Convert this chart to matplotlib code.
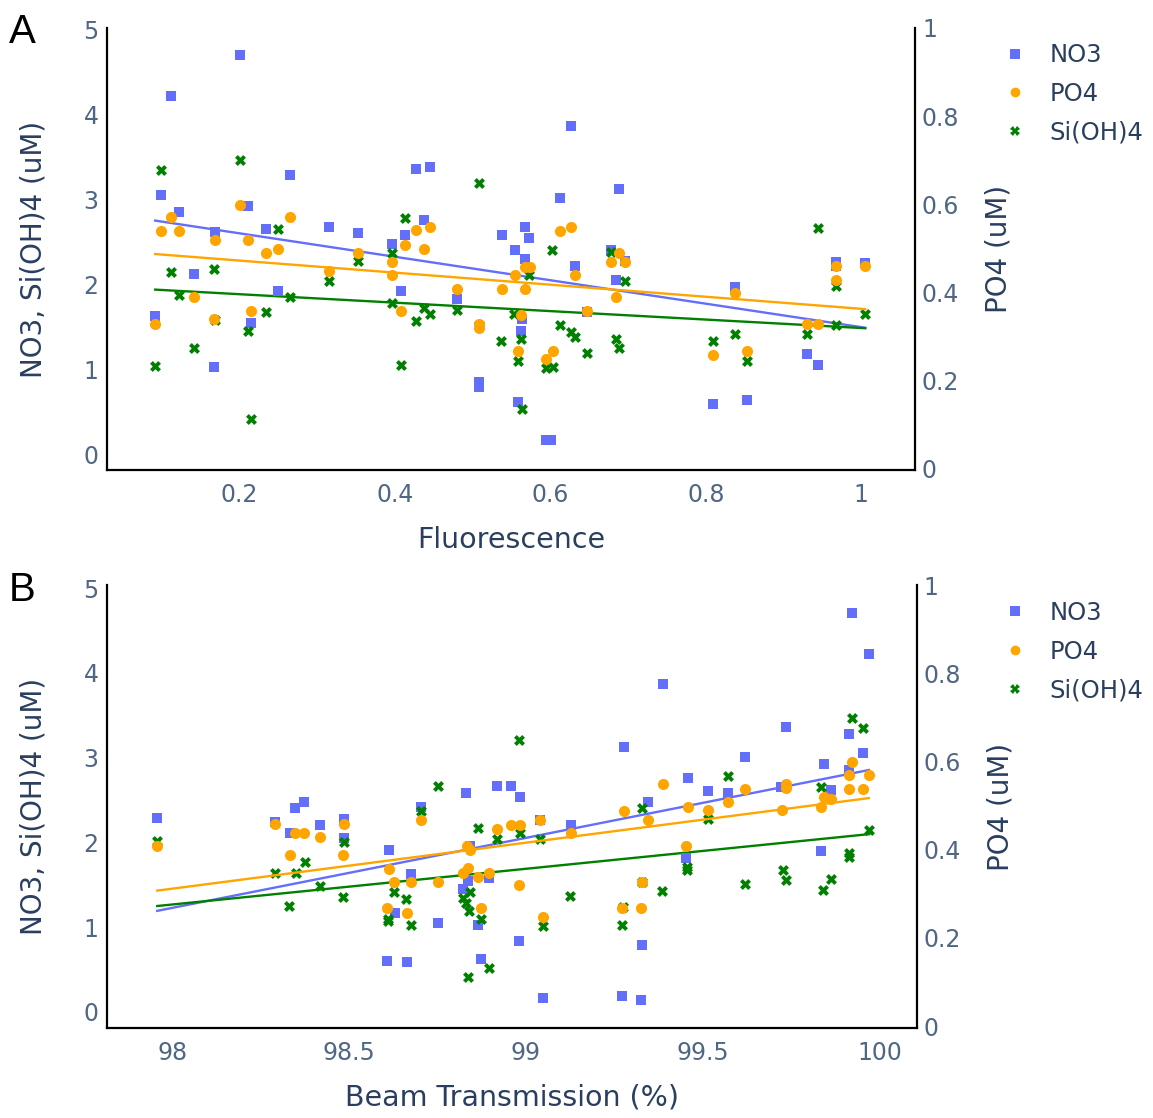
import matplotlib
matplotlib.use("Agg")
from matplotlib import pyplot as plt
from matplotlib.ticker import FuncFormatter
from matplotlib.lines import Line2D
import numpy as np

plt.rcParams["font.family"] = ["DejaVu Sans"]

# ---- panel A: fluorescence ----
fl_no3_x = [0.201, 0.112, 0.100, 0.122, 0.211, 0.265, 0.234, 0.169, 0.316, 0.353, 0.142, 0.250, 0.092, 0.215, 0.167,
            0.627, 0.427, 0.445, 0.613, 0.689, 0.438, 0.413, 0.396, 0.538, 0.567, 0.573, 0.554, 0.568, 0.632, 0.678,
            0.696, 0.684, 0.408, 0.480, 0.564, 0.647, 0.562, 0.508, 0.508, 0.558, 0.594, 0.601,
            0.968, 0.968, 1.005, 0.838, 0.930, 0.944, 0.809, 0.853]
fl_no3_y = [4.70, 4.22, 3.06, 2.85, 2.93, 3.29, 2.66, 2.62, 2.68, 2.61, 2.12, 1.92, 1.63, 1.55, 1.03,
            3.87, 3.36, 3.38, 3.02, 3.13, 2.76, 2.58, 2.48, 2.59, 2.68, 2.55, 2.41, 2.30, 2.22, 2.41,
            2.28, 2.05, 1.92, 1.83, 1.60, 1.68, 1.45, 0.85, 0.80, 0.62, 0.17, 0.17,
            2.27, 2.22, 2.25, 1.97, 1.18, 1.05, 0.60, 0.64]

fl_po4_x = [0.201, 0.112, 0.100, 0.122, 0.169, 0.211, 0.265, 0.234, 0.250, 0.353, 0.316, 0.142, 0.092, 0.167, 0.215,
            0.427, 0.445, 0.413, 0.438, 0.396, 0.396, 0.613, 0.627, 0.554, 0.568, 0.574, 0.568, 0.538, 0.480,
            0.632, 0.678, 0.689, 0.696, 0.684, 0.408, 0.647, 0.562, 0.508, 0.508, 0.558, 0.603, 0.595,
            0.968, 1.005, 0.968, 0.838, 0.930, 0.944, 0.809, 0.853]
fl_po4_y = [0.599, 0.570, 0.539, 0.539, 0.519, 0.519, 0.570, 0.489, 0.498, 0.489, 0.449, 0.388, 0.327, 0.338, 0.358,
            0.541, 0.548, 0.508, 0.498, 0.469, 0.438, 0.539, 0.548, 0.438, 0.458, 0.458, 0.408, 0.408, 0.408,
            0.438, 0.469, 0.489, 0.469, 0.388, 0.358, 0.358, 0.348, 0.327, 0.318, 0.267, 0.267, 0.247,
            0.459, 0.459, 0.427, 0.397, 0.327, 0.327, 0.257, 0.267]

fl_si_x = [0.100, 0.201, 0.250, 0.112, 0.167, 0.122, 0.265, 0.316, 0.353, 0.234, 0.169, 0.211, 0.142, 0.092, 0.215,
           0.508, 0.413, 0.602, 0.396, 0.573, 0.696, 0.678, 0.396, 0.438, 0.445, 0.427, 0.480, 0.553, 0.613,
           0.627, 0.632, 0.537, 0.562, 0.647, 0.684, 0.689, 0.558, 0.408, 0.595, 0.603, 0.564, 0.508,
           0.944, 0.968, 1.005, 0.968, 0.930, 0.838, 0.809, 0.853]
fl_si_y = [3.35, 3.47, 2.65, 2.15, 2.18, 1.88, 1.85, 2.04, 2.28, 1.68, 1.58, 1.45, 1.26, 1.04, 0.42,
           3.20, 2.78, 2.41, 2.37, 2.11, 2.04, 2.38, 1.78, 1.73, 1.65, 1.57, 1.70, 1.66, 1.52,
           1.44, 1.38, 1.34, 1.36, 1.20, 1.36, 1.26, 1.10, 1.06, 1.02, 1.03, 0.54, 1.52,
           2.67, 1.99, 1.65, 1.52, 1.42, 1.42, 1.34, 1.10]

# ---- panel B: beam transmission ----
bt_no3_x = [97.958, 98.291, 98.347, 98.374, 98.333, 98.417, 98.487, 98.487,
            99.277, 98.919, 98.958, 98.983, 98.831, 98.703, 99.040, 99.126, 98.842, 98.614, 98.674, 98.896,
            98.835, 98.823, 98.630, 98.752, 98.865, 98.979, 99.329, 98.608, 98.663, 98.873, 99.048, 99.272, 99.324,
            99.922, 99.969, 99.386, 99.734, 99.913, 99.953, 99.620, 99.842, 99.457, 99.515, 99.572, 99.862,
            99.720, 99.912, 99.345, 99.452, 99.833]
bt_no3_y = [2.29, 2.24, 2.40, 2.47, 2.11, 2.20, 2.27, 2.05,
            3.12, 2.67, 2.67, 2.54, 2.58, 2.42, 2.26, 2.20, 1.96, 1.91, 1.63, 1.58,
            1.54, 1.45, 1.17, 1.05, 1.02, 0.84, 0.79, 0.60, 0.59, 0.62, 0.16, 0.19, 0.14,
            4.71, 4.22, 3.87, 3.36, 3.28, 3.05, 3.01, 2.93, 2.76, 2.60, 2.58, 2.62,
            2.65, 2.85, 2.48, 1.81, 1.90]

bt_po4_x = [97.958, 98.291, 98.347, 98.374, 98.333, 98.417, 98.487, 98.484,
            98.703, 99.277, 98.919, 98.958, 98.983, 99.040, 99.126, 98.832, 98.842, 98.614, 98.837, 98.823,
            98.896, 98.865, 98.628, 98.674, 98.752, 98.979, 99.329, 98.608, 98.663, 98.873, 99.048, 99.272, 99.324,
            99.386, 99.922, 99.969, 99.913, 99.913, 99.953, 99.734, 99.734, 99.620, 99.457, 99.515, 99.572,
            99.842, 99.862, 99.833, 99.724, 99.345, 99.452]
bt_po4_y = [0.408, 0.459, 0.438, 0.438, 0.388, 0.428, 0.459, 0.388,
            0.468, 0.488, 0.448, 0.457, 0.457, 0.468, 0.438, 0.408, 0.400, 0.357, 0.359, 0.348,
            0.348, 0.338, 0.327, 0.327, 0.327, 0.319, 0.327, 0.268, 0.257, 0.268, 0.248, 0.268, 0.268,
            0.549, 0.598, 0.569, 0.569, 0.538, 0.538, 0.550, 0.539, 0.538, 0.498, 0.489, 0.508,
            0.519, 0.516, 0.497, 0.489, 0.468, 0.408]

bt_si_x = [97.958, 98.487, 98.376, 98.291, 98.349, 98.418, 98.484, 98.331,
           98.979, 98.752, 98.703, 99.327, 98.865, 98.919, 98.983, 99.041, 99.327, 98.628, 98.661, 98.842,
           98.823, 99.124, 98.830, 98.839, 98.611, 98.611, 98.674, 98.873, 99.048, 99.272, 99.275, 98.835, 98.896,
           99.920, 99.953, 99.572, 99.833, 99.515, 99.970, 99.454, 99.454, 99.912, 99.912, 99.727, 99.734,
           99.620, 99.385, 99.862, 99.840]
bt_si_y = [2.01, 2.00, 1.77, 1.64, 1.64, 1.49, 1.35, 1.25,
           3.21, 2.66, 2.37, 2.40, 2.17, 2.04, 2.11, 2.04, 1.53, 1.41, 1.33, 1.41,
           1.34, 1.37, 1.28, 1.19, 1.10, 1.07, 1.03, 1.09, 1.01, 1.02, 1.24, 0.41, 0.52,
           3.47, 3.35, 2.78, 2.65, 2.28, 2.15, 1.71, 1.67, 1.87, 1.83, 1.67, 1.56,
           1.51, 1.43, 1.57, 1.44]

series_names = ["NO3", "PO4", "Si(OH)4"]
colors = ["#636efa", "#FFA500", "#008000"]
markers = ["s", "o", "X"]
TICK_C = "#506784"
LABEL_C = "#2a3f5f"


def fmt(v, pos):
    return f"{v:g}"


def add_trend(ax, x, y, color):
    x = np.asarray(x)
    y = np.asarray(y)
    k, b = np.polyfit(x, y, 1)
    xs = np.array([x.min(), x.max()])
    ax.plot(xs, k * xs + b, color=color, lw=1.7, zorder=2)


def draw_panel(rect, data, xlim, ylim, xticks, xlabel, letter, letter_y, legend_y):
    ax = fig.add_axes(rect)
    ax2 = ax.twinx()
    (nx, ny), (px, py), (sx, sy) = data

    ax.scatter(nx, ny, marker="s", s=52, color=colors[0], lw=0, zorder=3)
    ax.scatter(sx, sy, marker="X", s=62, color=colors[2], lw=0, zorder=3)
    add_trend(ax, nx, ny, colors[0])
    add_trend(ax, sx, sy, colors[2])
    ax2.scatter(px, py, marker="o", s=64, color=colors[1], lw=0, zorder=3)
    add_trend(ax2, px, py, colors[1])

    ax.set_xlim(*xlim)
    ax.set_ylim(*ylim)
    ax2.set_ylim(-0.004, 1.0)
    ax.set_xticks(xticks)
    ax.set_yticks([0, 1, 2, 3, 4, 5])
    ax2.set_yticks([0, 0.2, 0.4, 0.6, 0.8, 1])
    for a in (ax, ax2):
        a.xaxis.set_major_formatter(FuncFormatter(fmt))
        a.yaxis.set_major_formatter(FuncFormatter(fmt))
        for sp in a.spines.values():
            sp.set_visible(False)
    ax.spines["left"].set_visible(True)
    ax.spines["bottom"].set_visible(True)
    ax2.spines["right"].set_visible(True)
    for sp in (ax.spines["left"], ax.spines["bottom"], ax2.spines["right"]):
        sp.set_linewidth(1.6)
        sp.set_color("black")

    ax.tick_params(axis="y", length=0, pad=6, labelsize=17, labelcolor=TICK_C)
    ax.tick_params(axis="x", length=0, pad=9, labelsize=17, labelcolor=TICK_C)
    ax2.tick_params(axis="y", length=0, pad=5, labelsize=17, labelcolor=TICK_C)

    ax.set_ylabel("NO3, Si(OH)4 (uM)", fontsize=20, color=LABEL_C, labelpad=25.5)
    ax2.set_ylabel("PO4 (uM)", fontsize=20, color=LABEL_C, labelpad=18)
    ax.set_xlabel(xlabel, fontsize=20.5, color=LABEL_C, labelpad=14)

    fig.text(0.008, letter_y, letter, fontsize=29, family="Liberation Sans", color="black", va="top")

    handles = [Line2D([], [], ls="none", marker=m, color=c, markersize=7, markeredgewidth=0)
               for m, c in zip(markers, colors)]
    leg = fig.legend(handles, series_names, loc="upper left", bbox_to_anchor=(0.852, legend_y),
                     frameon=False, fontsize=17.5, handletextpad=0.95, labelspacing=0.6,
                     handlelength=0.9)
    for t in leg.get_texts():
        t.set_color(LABEL_C)
    return ax


fig = plt.figure(figsize=(11.53, 11.18), dpi=100)

draw_panel([0.0928, 0.5796, 0.7008, 0.3954],
           [(fl_no3_x, fl_no3_y), (fl_po4_x, fl_po4_y), (fl_si_x, fl_si_y)],
           (0.03, 1.069), (-0.18, 5.02), [0.2, 0.4, 0.6, 0.8, 1.0],
           "Fluorescence", "A", 0.988, 0.981)
draw_panel([0.0928, 0.0805, 0.7025, 0.3962],
           [(bt_no3_x, bt_no3_y), (bt_po4_x, bt_po4_y), (bt_si_x, bt_si_y)],
           (97.816, 100.105), (-0.19, 5.035), [98, 98.5, 99, 99.5, 100],
           "Beam Transmission (%)", "B", 0.489, 0.482)

fig.savefig("out.png", dpi=100)
